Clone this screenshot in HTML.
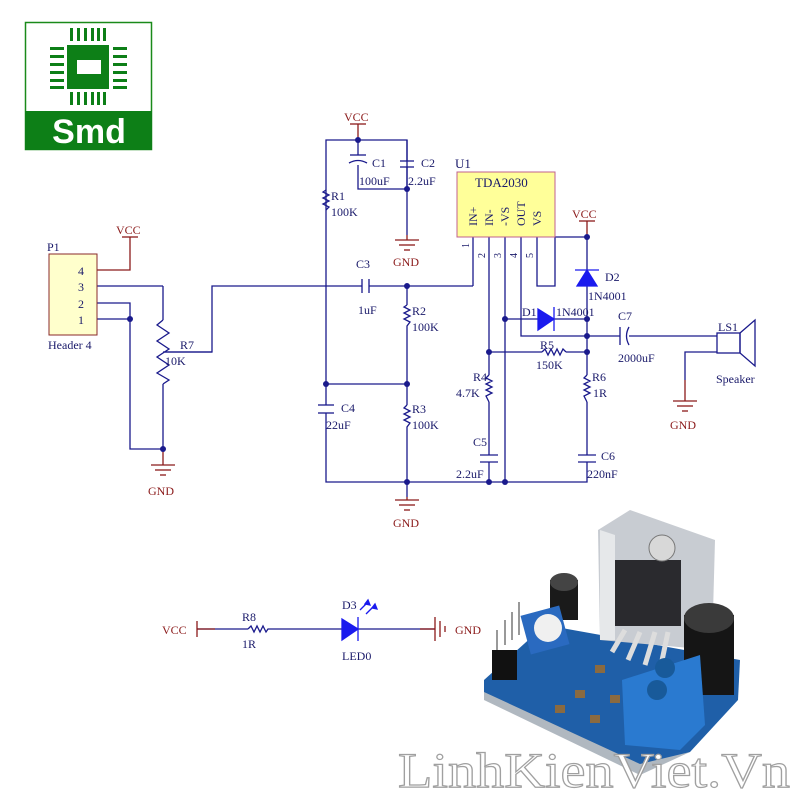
<!DOCTYPE html>
<html><head><meta charset="utf-8"><style>
html,body{margin:0;padding:0;background:#fff;width:800px;height:800px;overflow:hidden}
svg{display:block}
text{font-family:"Liberation Serif",serif;}
</style></head><body>
<svg width="800" height="800" viewBox="0 0 800 800" xmlns="http://www.w3.org/2000/svg">
<!-- Logo -->
<rect x="25.5" y="22.5" width="126" height="127" fill="#fff" stroke="#1a8a1a" stroke-width="1.5"/>
<rect x="25" y="111" width="127" height="39" fill="#0d7f17"/>
<rect x="67" y="45" width="42" height="44" fill="#0d7f17"/>
<rect x="77" y="60" width="24" height="14" fill="#fff"/>
<g fill="#0d7f17">
<rect x="70" y="28" width="3" height="13"/><rect x="77" y="28" width="3" height="13"/><rect x="84" y="28" width="3" height="13"/><rect x="91" y="28" width="3" height="13"/><rect x="103" y="28" width="3" height="13"/><rect x="97" y="28" width="3" height="13"/>
<rect x="70" y="92" width="3" height="13"/><rect x="77" y="92" width="3" height="13"/><rect x="84" y="92" width="3" height="13"/><rect x="91" y="92" width="3" height="13"/><rect x="97" y="92" width="3" height="13"/><rect x="103" y="92" width="3" height="13"/>
<rect x="50" y="47" width="14" height="3"/><rect x="50" y="55" width="14" height="3"/><rect x="50" y="63" width="14" height="3"/><rect x="50" y="71" width="14" height="3"/><rect x="50" y="79" width="14" height="3"/><rect x="50" y="86" width="14" height="3"/>
<rect x="113" y="47" width="14" height="3"/><rect x="113" y="55" width="14" height="3"/><rect x="113" y="63" width="14" height="3"/><rect x="113" y="71" width="14" height="3"/><rect x="113" y="79" width="14" height="3"/><rect x="113" y="86" width="14" height="3"/>
</g>
<text x="89" y="143" font-family="Liberation Sans,sans-serif" font-weight="bold" font-size="34" fill="#fff" text-anchor="middle" style="font-family:'Liberation Sans',sans-serif">Smd</text>

<g stroke="#1a1a8c" stroke-width="1.3" fill="none">
<!-- top -->
<polyline points="326,384 326,140 407,140 407,235"/>
<polyline points="358,140 358,155"/>
<polyline points="358,165 358,189 407,189"/>
<line x1="407" y1="140" x2="407" y2="161"/>
<!-- left header -->
<line x1="97" y1="286" x2="163" y2="286"/>
<polyline points="163,286 163,320"/>
<polyline points="163,384 163,449 130,449 130,303 97,303"/>
<line x1="97" y1="319" x2="130" y2="319"/>
<polyline points="163,352 212,352 212,286 362,286"/>
<line x1="369" y1="286" x2="473" y2="286"/>
<line x1="473" y1="237" x2="473" y2="286"/>
<!-- R2 R3 column -->
<line x1="407" y1="286" x2="407" y2="305"/>
<line x1="407" y1="332" x2="407" y2="405"/>
<line x1="407" y1="432" x2="407" y2="497"/>
<line x1="326" y1="384" x2="407" y2="384"/>
<line x1="326" y1="384" x2="326" y2="405"/>
<polyline points="326,413 326,482 587,482 587,462"/>
<!-- U1 pins -->
<line x1="489" y1="237" x2="489" y2="375"/>
<line x1="489" y1="402" x2="489" y2="455"/>
<line x1="489" y1="462" x2="489" y2="482"/>
<line x1="505" y1="237" x2="505" y2="482"/>
<polyline points="521,237 521,336 620,336"/>
<polyline points="537,237 537,286 555,286 555,237 587,237"/>
<line x1="587" y1="237" x2="587" y2="270"/>
<line x1="587" y1="286" x2="587" y2="375"/>
<line x1="587" y1="402" x2="587" y2="455"/>
<line x1="505" y1="319" x2="538" y2="319"/>
<line x1="554" y1="319" x2="587" y2="319"/>
<line x1="489" y1="352" x2="542" y2="352"/>
<line x1="566" y1="352" x2="587" y2="352"/>
<line x1="629" y1="336" x2="717" y2="336"/>
<polyline points="717,352 685,352 685,380"/>
<!-- resistors -->
<polyline points="326,190 323,192 329,195 323,198 329,201 323,204 329,207 326,210"/>
<polyline points="407,305 404,307 410,310 404,313 410,316 404,319 410,322 407,326 407,332"/>
<polyline points="407,405 404,408 410,411 404,414 410,417 404,420 410,423 407,427 407,432"/>
<polyline points="489,375 486,378 492,381 486,384 492,387 486,390 492,393 486,396 489,402"/>
<polyline points="587,375 584,378 590,381 584,384 590,387 584,390 590,393 584,396 587,402"/>
<polyline points="542,352 545,349 548,355 551,349 554,355 557,349 560,355 563,349 566,352"/>
<polyline points="163,320 157,325 169,333 157,341 169,349 157,357 169,365 157,373 169,380 163,384"/>
<line x1="165" y1="352" x2="212" y2="352"/>
<!-- caps -->
<line x1="400" y1="161" x2="414" y2="161"/><line x1="400" y1="167" x2="414" y2="167"/>
<line x1="407" y1="167" x2="407" y2="189"/>
<path d="M350,155 L366,155"/><path d="M349,163 Q358,158 367,163"/>
<line x1="362" y1="279" x2="362" y2="293"/><line x1="369" y1="279" x2="369" y2="293"/>
<line x1="318" y1="405" x2="334" y2="405"/><line x1="318" y1="413" x2="334" y2="413"/>
<line x1="480" y1="455" x2="498" y2="455"/><line x1="480" y1="462" x2="498" y2="462"/>
<line x1="578" y1="455" x2="596" y2="455"/><line x1="578" y1="462" x2="596" y2="462"/>
<line x1="620" y1="327" x2="620" y2="345"/><path d="M629,327 Q624,336 629,345"/>
<!-- speaker -->
<rect x="717" y="333" width="23" height="20"/>
<polygon points="740,333 755,320 755,366 740,353"/>
<!-- bottom circuit -->
<line x1="197" y1="629" x2="248" y2="629"/>
<polyline points="248,629 251,626 254,632 257,626 260,632 263,626 266,632 268,629 342,629"/>
<line x1="358" y1="629" x2="435" y2="629"/>
</g>
<!-- red net stubs -->
<g stroke="#8b1a1a" stroke-width="1.3" fill="none">
<line x1="358" y1="124" x2="358" y2="140"/><line x1="350" y1="124" x2="366" y2="124"/>
<line x1="587" y1="221" x2="587" y2="237"/><line x1="579" y1="221" x2="595" y2="221"/>
<polyline points="130,237 130,270 97,270"/><line x1="122" y1="237" x2="138" y2="237"/>
<line x1="407" y1="235" x2="407" y2="240"/><line x1="395" y1="240" x2="419" y2="240"/><line x1="399" y1="245" x2="415" y2="245"/><line x1="404" y1="250" x2="410" y2="250"/>
<line x1="163" y1="449" x2="163" y2="465"/><line x1="151" y1="465" x2="175" y2="465"/><line x1="155" y1="470" x2="171" y2="470"/><line x1="160" y1="475" x2="166" y2="475"/>
<line x1="407" y1="497" x2="407" y2="500"/><line x1="395" y1="500" x2="419" y2="500"/><line x1="399" y1="505" x2="415" y2="505"/><line x1="404" y1="510" x2="410" y2="510"/>
<line x1="685" y1="380" x2="685" y2="401"/><line x1="673" y1="401" x2="697" y2="401"/><line x1="677" y1="406" x2="693" y2="406"/><line x1="682" y1="411" x2="688" y2="411"/>
<line x1="197" y1="621" x2="197" y2="637"/><line x1="197" y1="629" x2="215" y2="629"/>
<line x1="420" y1="629" x2="435" y2="629"/><line x1="435" y1="617" x2="435" y2="641"/><line x1="440" y1="621" x2="440" y2="637"/><line x1="445" y1="626" x2="445" y2="632"/>
</g>
<!-- U1 -->
<rect x="457" y="172" width="98" height="65" fill="#ffff99" stroke="#c06090" stroke-width="1"/>
<rect x="49" y="254" width="48" height="81" fill="#ffffcc" stroke="#8a2a2a" stroke-width="1"/>
<!-- diodes -->
<g fill="#1a1aee" stroke="#1a1aee" stroke-width="1.3">
<polygon points="577,286 597,286 587,270"/><line x1="575" y1="270" x2="599" y2="270"/>
<polygon points="538,309 538,330 554,319"/><line x1="554" y1="307" x2="554" y2="331"/>
<polygon points="342,619 342,640 358,629"/><line x1="358" y1="617" x2="358" y2="641"/>
<line x1="360" y1="610" x2="368" y2="602"/><line x1="366" y1="614" x2="374" y2="606"/>
<polygon points="368,600 370,605 365,604"/><polygon points="375,604 377,609 372,608"/>
</g>
<!-- junctions -->
<g fill="#1a1a8c">
<circle cx="358" cy="140" r="3"/><circle cx="407" cy="189" r="3"/><circle cx="407" cy="286" r="3"/>
<circle cx="407" cy="384" r="3"/><circle cx="326" cy="384" r="3"/><circle cx="407" cy="482" r="3"/>
<circle cx="489" cy="482" r="3"/><circle cx="505" cy="482" r="3"/><circle cx="587" cy="237" r="3"/>
<circle cx="505" cy="319" r="3"/><circle cx="587" cy="319" r="3"/><circle cx="587" cy="336" r="3"/>
<circle cx="587" cy="352" r="3"/><circle cx="489" cy="352" r="3"/><circle cx="130" cy="319" r="3"/>
<circle cx="163" cy="449" r="3"/>
</g>
<!-- labels -->
<g font-size="12" fill="#1a1a6a">
<text x="372" y="167">C1</text><text x="421" y="167">C2</text>
<text x="359" y="185">100uF</text><text x="408" y="185">2.2uF</text>
<text x="331" y="200">R1</text><text x="331" y="216">100K</text>
<text x="455" y="168" font-size="13">U1</text>
<text x="475" y="187" font-size="13">TDA2030</text>
<text x="356" y="268">C3</text><text x="358" y="314">1uF</text>
<text x="412" y="315">R2</text><text x="412" y="331">100K</text>
<text x="412" y="413">R3</text><text x="412" y="429">100K</text>
<text x="341" y="412">C4</text><text x="326" y="429">22uF</text>
<text x="47" y="251">P1</text><text x="48" y="349">Header 4</text>
<text x="78" y="275">4</text><text x="78" y="291">3</text><text x="78" y="308">2</text><text x="78" y="324">1</text>
<text x="180" y="349">R7</text><text x="165" y="365">10K</text>
<text x="473" y="381">R4</text><text x="456" y="397">4.7K</text>
<text x="473" y="446">C5</text><text x="456" y="478">2.2uF</text>
<text x="592" y="381">R6</text><text x="593" y="397">1R</text>
<text x="601" y="460">C6</text><text x="587" y="478">220nF</text>
<text x="540" y="349">R5</text><text x="536" y="369">150K</text>
<text x="522" y="316">D1</text><text x="556" y="316">1N4001</text>
<text x="605" y="281">D2</text><text x="588" y="300">1N4001</text>
<text x="618" y="320">C7</text><text x="618" y="362">2000uF</text>
<text x="718" y="331">LS1</text><text x="716" y="383">Speaker</text>
<text x="242" y="621">R8</text><text x="242" y="648">1R</text>
<text x="342" y="609">D3</text><text x="342" y="660">LED0</text>
</g>
<g font-size="10" fill="#1a1a6a">
<text transform="translate(477,226) rotate(-90)" font-size="12">IN+</text>
<text transform="translate(493,226) rotate(-90)" font-size="12">IN-</text>
<text transform="translate(509,226) rotate(-90)" font-size="12">-VS</text>
<text transform="translate(525,226) rotate(-90)" font-size="12">OUT</text>
<text transform="translate(541,226) rotate(-90)" font-size="12">VS</text>
<text transform="translate(469,248) rotate(-90)">1</text>
<text transform="translate(485,258) rotate(-90)">2</text>
<text transform="translate(501,258) rotate(-90)">3</text>
<text transform="translate(517,258) rotate(-90)">4</text>
<text transform="translate(533,258) rotate(-90)">5</text>
</g>
<g font-size="12" fill="#8b1a1a">
<text x="344" y="121">VCC</text><text x="572" y="218">VCC</text><text x="116" y="234">VCC</text>
<text x="393" y="266">GND</text><text x="148" y="495">GND</text><text x="393" y="527">GND</text>
<text x="670" y="429">GND</text><text x="162" y="634">VCC</text><text x="455" y="634">GND</text>
</g>
<!-- module photo approximation -->
<polygon points="484,680 545,625 740,660 738,700 690,752 640,770 484,698" fill="#1f5fa8"/>
<polygon points="484,692 640,764 690,752 640,775 484,700" fill="#b0b8c0"/>
<polygon points="598,530 630,510 715,540 712,650 600,640" fill="#c8ccd2"/>
<polygon points="600,530 615,535 615,640 600,640" fill="#e6e8ea"/>
<rect x="615" y="560" width="66" height="66" fill="#2a2a2e"/>
<circle cx="662" cy="548" r="13" fill="#d8d8d8" stroke="#777"/>
<g stroke="#ddd" stroke-width="5" fill="none"><line x1="625" y1="630" x2="612" y2="652"/><line x1="640" y1="632" x2="628" y2="660"/><line x1="655" y1="632" x2="645" y2="665"/><line x1="668" y1="632" x2="660" y2="670"/></g>
<rect x="550" y="580" width="28" height="40" fill="#1a1a1a"/><ellipse cx="564" cy="582" rx="14" ry="9" fill="#444"/>
<rect x="684" y="615" width="50" height="80" fill="#151515"/><ellipse cx="709" cy="618" rx="25" ry="15" fill="#3a3a3a"/>
<polygon points="622,680 700,655 705,725 680,750 625,745" fill="#2a7ad0"/>
<circle cx="665" cy="668" r="10" fill="#185a9a"/><circle cx="657" cy="690" r="10" fill="#185a9a"/>
<rect x="525" y="610" width="40" height="40" fill="#2a6ac0" transform="rotate(-15 545 630)"/>
<circle cx="548" cy="628" r="14" fill="#f0f0f0"/>
<rect x="492" y="650" width="25" height="30" fill="#111"/>
<g stroke="#999" stroke-width="2"><line x1="497" y1="650" x2="497" y2="630"/><line x1="505" y1="645" x2="505" y2="620"/><line x1="512" y1="640" x2="512" y2="612"/><line x1="519" y1="635" x2="519" y2="602"/></g>
<g fill="#8a6a40"><rect x="595" y="665" width="10" height="8"/><rect x="575" y="690" width="10" height="8"/><rect x="610" y="695" width="10" height="8"/><rect x="590" y="715" width="10" height="8"/><rect x="555" y="705" width="10" height="8"/></g>
<text x="398" y="787" font-size="50" fill="#fff" stroke="#a0a0a0" stroke-width="1.2" textLength="392" lengthAdjust="spacingAndGlyphs">LinhKienViet.Vn</text>
</svg>
</body></html>
